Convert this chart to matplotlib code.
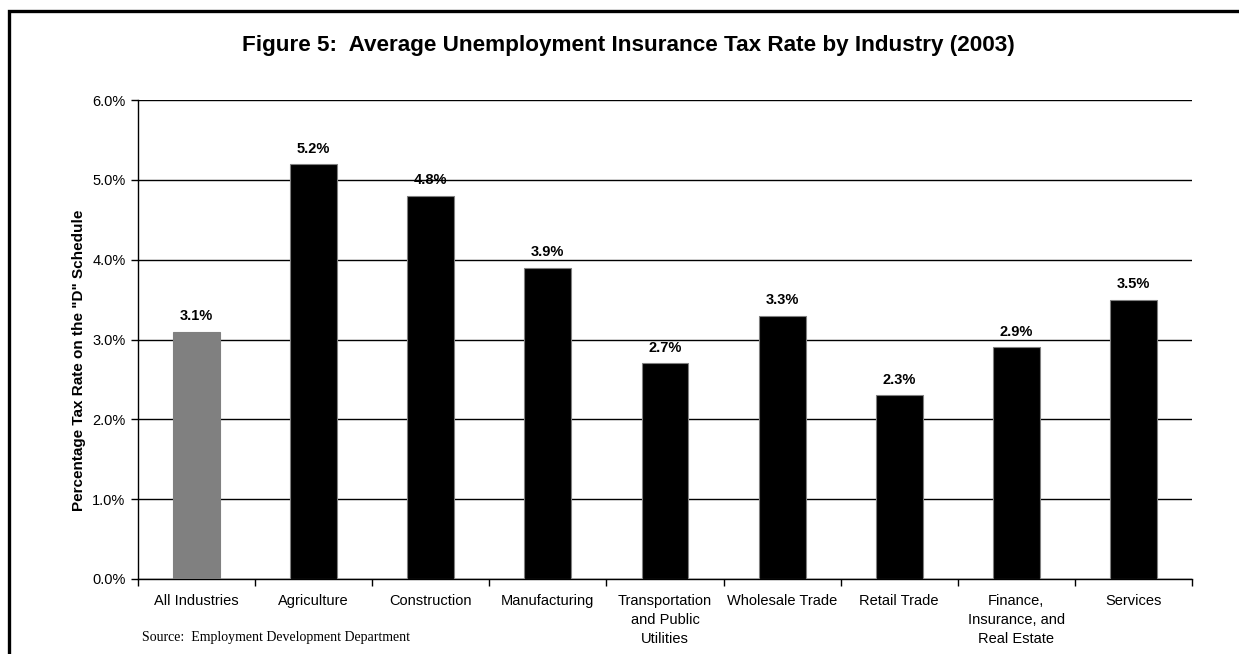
import matplotlib
matplotlib.use("Agg")
import matplotlib.pyplot as plt
from matplotlib.patches import Rectangle

plt.rcParams['font.family'] = ['Liberation Sans', 'DejaVu Sans']

categories = ["All Industries", "Agriculture", "Construction", "Manufacturing",
              "Transportation\nand Public\nUtilities", "Wholesale Trade",
              "Retail Trade", "Finance,\nInsurance, and\nReal Estate", "Services"]
rates = [3.1, 5.2, 4.8, 3.9, 2.7, 3.3, 2.3, 2.9, 3.5]
bar_colors = ["#808080"] + ["#000000"] * 8
y_ticks = [0, 1, 2, 3, 4, 5, 6]
y_tick_labels = [f"{v:.1f}%" for v in y_ticks]

W, H = 1239, 654
fig = plt.figure(figsize=(W / 100, H / 100), dpi=100)
ax = fig.add_axes([138 / W, 1 - 579 / H, (1192 - 138) / W, (579 - 100) / H])

x = list(range(len(categories)))
ax.bar(x, rates, width=0.4, color=bar_colors, edgecolor="#808080",
       linewidth=0.8, zorder=3)

for xi, v in zip(x, rates):
    ax.annotate(f"{v:.1f}%", (xi, v), xytext=(0, 6), textcoords="offset points",
                ha="center", va="bottom", fontsize=10.5, fontweight="bold")

ax.set_xlim(-0.5, len(categories) - 0.5)
ax.set_ylim(0, 6)
ax.set_yticks(y_ticks)
ax.set_yticklabels(y_tick_labels, fontsize=10.5)
ax.yaxis.grid(True, color="black", linewidth=1.0, zorder=0)
ax.set_axisbelow(True)

# category labels centred on bars, tick marks on the boundaries
ax.set_xticks(x)
ax.set_xticklabels(categories, fontsize=10.5, linespacing=1.45, va="top")
ax.tick_params(axis="x", which="major", length=0, pad=11)
ax.set_xticks([i - 0.5 for i in range(len(categories) + 1)], minor=True)
ax.tick_params(axis="x", which="minor", length=5, width=1, direction="out")
ax.tick_params(axis="y", length=5, width=1, direction="out", pad=4)

for s in ["top", "right"]:
    ax.spines[s].set_visible(False)
for s in ["left", "bottom"]:
    ax.spines[s].set_linewidth(1.0)

ax.set_ylabel('Percentage Tax Rate on the "D" Schedule', fontsize=11,
              fontweight="bold")
ax.yaxis.set_label_coords((86 - 138) / 1054, (579 - 360) / 479)

fig.text(628 / W, 1 - 45 / H,
         "Figure 5:  Average Unemployment Insurance Tax Rate by Industry (2003)",
         ha="center", va="center", fontsize=16.2, fontweight="bold")

fig.text(142 / W, 1 - 637 / H, "Source:  Employment Development Department",
         ha="left", va="center", fontsize=10, family=["Liberation Serif", "DejaVu Serif"])

# outer frame
fig.patches.append(Rectangle((9 / W, -0.2), 1.2, 1.2 - 11 / H, transform=fig.transFigure,
                             fill=False, edgecolor="black", linewidth=2.4))

fig.savefig("out.png", dpi=100)
